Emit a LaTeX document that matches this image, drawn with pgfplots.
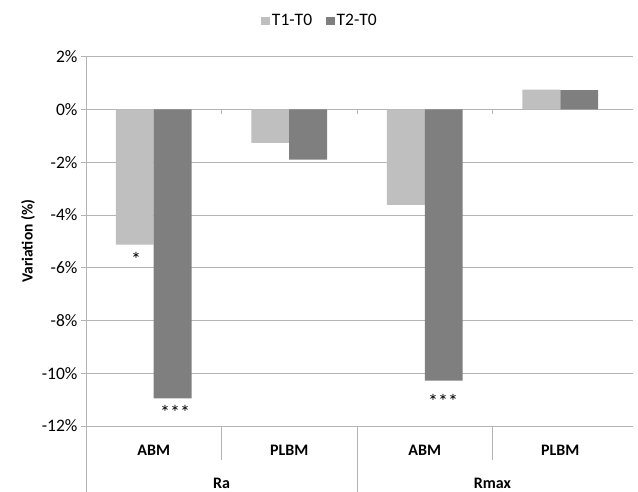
\documentclass[border=0pt]{standalone}
\usepackage{pgfplots}
\pgfplotsset{compat=1.18}
\usepackage{fontspec}
\setmainfont{Carlito}
\definecolor{cA}{HTML}{BFBFBF}
\definecolor{cB}{HTML}{7F7F7F}
\definecolor{gridc}{HTML}{B4B4B4}
\begin{document}
\begin{tikzpicture}
\useasboundingbox (-86pt,-66pt) rectangle (552pt,426pt);
\begin{axis}[
  at={(0,0)}, anchor=south west, scale only axis,
  width=542pt, height=369.3pt,
  xmin=0, xmax=4, ymin=-12, ymax=2,
  clip=false,
  axis line style={draw=none},
  ybar=0pt, bar width=0.28,
  ytick={-12,-10,...,2},
  yticklabel={\pgfmathprintnumber{\tick}\%},
  /pgf/number format/assume math mode=true,
  yticklabel style={font=\fontsize{17.5}{20}\selectfont},
  ymajorgrids, grid style={gridc, line width=0.8pt},
  ytick style={gridc, line width=0.8pt},
  tick align=outside, major tick length=5pt,
  xtick=\empty,
  ylabel={\bfseries Variation (\%)},
  ylabel style={font=\fontsize{15.5}{18}\selectfont},
  legend style={at={(0.432,1.097)}, anchor=center, draw=none, fill=none,
    legend columns=2, font=\fontsize{17.5}{20}\selectfont,
    /tikz/every even column/.append style={column sep=12pt},
    inner sep=0pt},
  legend image code/.code={\fill[#1] (0pt,-4.5pt) rectangle (8.5pt,4pt);},
]
\addplot[fill=cA, draw=none] coordinates {(0.5,-5.12) (1.5,-1.27) (2.5,-3.62) (3.5,0.75)};
\addplot[fill=cB, draw=none] coordinates {(0.5,-10.95) (1.5,-1.9) (2.5,-10.28) (3.5,0.73)};
\addlegendentry{T1-T0}
\addlegendentry{T2-T0}

% axis lines and separators
\draw[gridc, line width=0.8pt] (axis cs:0,2) -- ([yshift=-66pt]axis cs:0,-12);
\draw[gridc, line width=0.8pt] (axis cs:2,-12) -- ([yshift=-66pt]axis cs:2,-12);
\draw[gridc, line width=0.8pt] (axis cs:1,-12) -- ([yshift=-34pt]axis cs:1,-12);
\draw[gridc, line width=0.8pt] (axis cs:3,-12) -- ([yshift=-34pt]axis cs:3,-12);
\draw[gridc, line width=0.8pt] (axis cs:1,0) -- ([yshift=-5pt]axis cs:1,0);
\draw[gridc, line width=0.8pt] (axis cs:2,0) -- ([yshift=-5pt]axis cs:2,0);
\draw[gridc, line width=0.8pt] (axis cs:3,0) -- ([yshift=-5pt]axis cs:3,0);

% category labels
\begin{scope}[every node/.style={font=\fontsize{16}{19}\selectfont\bfseries, anchor=center}]
\node[yshift=-24pt] at (axis cs:0.5,-12) {ABM};
\node[yshift=-24pt] at (axis cs:1.5,-12) {PLBM};
\node[yshift=-24pt] at (axis cs:2.5,-12) {ABM};
\node[yshift=-24pt] at (axis cs:3.5,-12) {PLBM};
\node[yshift=-57pt] at (axis cs:1,-12) {Ra};
\node[yshift=-57pt] at (axis cs:3,-12) {Rmax};
\end{scope}

% significance marks
\begin{scope}[every node/.style={font=\fontsize{20}{22}\selectfont, anchor=center, yshift=-4pt}]
\node at (axis cs:0.369,-5.53) {*};
\node at (axis cs:0.657,-11.33) {***};
\node at (axis cs:2.635,-10.92) {***};
\end{scope}
\end{axis}
\end{tikzpicture}
\end{document}
